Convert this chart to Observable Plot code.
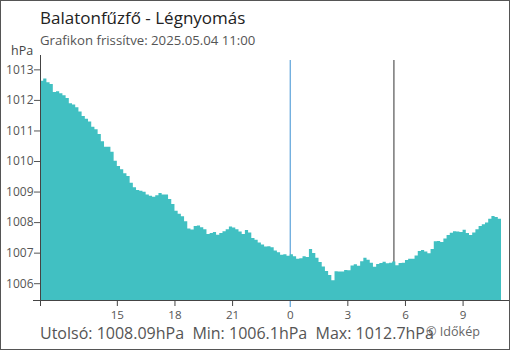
<!DOCTYPE html>
<html>
<head>
<meta charset="utf-8">
<script src="https://cdn.jsdelivr.net/npm/d3@7"></script>
<script src="https://cdn.jsdelivr.net/npm/@observablehq/plot@0.6"></script>
<style>
  html, body { margin: 0; padding: 0; background: #fff; }
  #wrap { position: relative; width: 510px; height: 350px; overflow: hidden; font-family: "Open Sans", sans-serif; }
  #chart { position: absolute; left: 0; top: 0; }
  #overlay { position: absolute; left: 0; top: 0; pointer-events: none; }
  #border { position: absolute; left: 0; top: 0; width: 508px; height: 348px; border: 1px solid #555; pointer-events: none; }
</style>
</head>
<body>
<div id="wrap">
  <div id="chart"></div>
  <svg id="overlay" width="510" height="350" font-family="Open Sans, sans-serif">
    <text x="40" y="24" font-size="17" fill="#222">Balatonfűzfő - Légnyomás</text>
    <text x="40" y="45" font-size="13.2" fill="#555">Grafikon frissítve: 2025.05.04 11:00</text>
    <text x="11" y="55" font-size="12.5" fill="#444">hPa</text>
    <text x="40" y="338.5" font-size="16" fill="#555" xml:space="preserve">Utolsó: 1008.09hPa  Min: 1006.1hPa  Max: 1012.7hPa</text>
    <text x="426" y="335.7" font-size="12.6" fill="#666">© Időkép</text>
  </svg>
  <div id="border"></div>
</div>
<script>
// Pressure readings, 10-minute steps from 2025-05-03 11:00 to 2025-05-04 11:00 (hPa)
const pressure = [
  1012.63, 1012.70, 1012.58, 1012.52, 1012.26, 1012.28, 1012.22, 1012.15, 1012.06, 1011.89,
  1011.85, 1011.76, 1011.62, 1011.47, 1011.38, 1011.29, 1011.12, 1011.04, 1010.88, 1010.65,
  1010.47, 1010.47, 1010.30, 1010.01, 1009.84, 1009.73, 1009.60, 1009.51, 1009.29, 1009.14,
  1009.05, 1009.03, 1008.99, 1008.90, 1008.86, 1008.83, 1008.88, 1008.95, 1008.90, 1008.90,
  1008.76, 1008.59, 1008.37, 1008.27, 1008.19, 1008.03, 1007.79, 1007.76, 1007.87, 1007.89,
  1007.83, 1007.77, 1007.61, 1007.64, 1007.68, 1007.59, 1007.64, 1007.70, 1007.77, 1007.86,
  1007.82, 1007.77, 1007.69, 1007.61, 1007.74, 1007.66, 1007.48, 1007.42, 1007.33, 1007.27,
  1007.20, 1007.21, 1007.18, 1007.07, 1007.01, 1006.93, 1006.95, 1006.90, 1006.95, 1006.88,
  1006.80, 1006.82, 1006.88, 1006.86, 1007.12, 1006.99, 1006.83, 1006.69, 1006.55, 1006.40,
  1006.27, 1006.10, 1006.39, 1006.38, 1006.38, 1006.43, 1006.42, 1006.58, 1006.62, 1006.57,
  1006.72, 1006.83, 1006.77, 1006.67, 1006.54, 1006.63, 1006.66, 1006.70, 1006.65, 1006.67,
  1006.71, 1006.59, 1006.66, 1006.67, 1006.76, 1006.80, 1006.80, 1006.91, 1007.05, 1007.09,
  1007.04, 1006.98, 1007.12, 1007.37, 1007.38, 1007.35, 1007.46, 1007.58, 1007.65, 1007.70,
  1007.69, 1007.68, 1007.75, 1007.64, 1007.58, 1007.66, 1007.77, 1007.87, 1007.93, 1007.99,
  1008.11, 1008.20, 1008.17, 1008.11, 1008.09
];
const startTime = new Date(Date.UTC(2025, 4, 3, 11, 0));
const endTime = new Date(Date.UTC(2025, 4, 4, 11, 0));
const stepMinutes = 10;
const yTicks = [1006, 1007, 1008, 1009, 1010, 1011, 1012, 1013];
const yDomain = [1005.45, 1013.47];
const xLabelTimes = [
  new Date(Date.UTC(2025, 4, 3, 15)), new Date(Date.UTC(2025, 4, 3, 18)), new Date(Date.UTC(2025, 4, 3, 21)),
  new Date(Date.UTC(2025, 4, 4, 0)), new Date(Date.UTC(2025, 4, 4, 3)), new Date(Date.UTC(2025, 4, 4, 6)),
  new Date(Date.UTC(2025, 4, 4, 9))
];
const midnight = new Date(Date.UTC(2025, 4, 4, 0));
const sunrise = new Date(Date.UTC(2025, 4, 4, 5, 24));
const xTickTimes = [startTime, ...xLabelTimes.filter(d => +d !== +midnight)];

const data = pressure.map((v, i) => ({ t: d3.utcMinute.offset(startTime, i * stepMinutes), v }));

const chart = Plot.plot({
  width: 510,
  height: 350,
  marginLeft: 40,
  marginRight: 9,
  marginTop: 55,
  marginBottom: 50,
  style: { fontFamily: "Open Sans, sans-serif", background: "transparent", overflow: "visible" },
  x: { type: "utc", domain: [startTime, endTime], axis: null, label: null },
  y: { domain: yDomain, axis: null, label: null },
  marks: [
    Plot.ruleX([midnight], { stroke: "#3a8fd2", strokeWidth: 1, insetTop: 5, insetBottom: -7 }),
    Plot.ruleX([sunrise], { stroke: "#333", strokeWidth: 1, insetTop: 5 }),
    Plot.areaY(data, { x: "t", y1: yDomain[0], y2: "v", curve: "step-after", fill: "#41c0c2" }),
    Plot.frame({ anchor: "left", stroke: "#444" }),
    Plot.ruleY([yDomain[0]], { stroke: "#444", insetLeft: -7, insetRight: -9 }),
    Plot.axisY({ ticks: yTicks, tickSize: 6, tickPadding: 1, fontSize: 12, color: "#555", label: null, tickFormat: d => String(d) }),
    Plot.axisX({ ticks: xTickTimes, tickSize: 6, tickFormat: () => "", color: "#444", label: null }),
    Plot.axisX({ ticks: xLabelTimes, tickSize: 0, tickPadding: 10, fontSize: 11.6, color: "#555", label: null, tickFormat: d3.utcFormat("%-H") })
  ]
});
document.getElementById("chart").appendChild(chart);
</script>
</body>
</html>
